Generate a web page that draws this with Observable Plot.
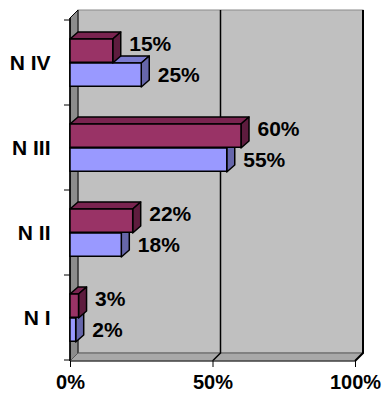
<!DOCTYPE html>
<html>
<head>
<meta charset="utf-8">
<script src="https://cdn.jsdelivr.net/npm/d3@7"></script>
<script src="https://cdn.jsdelivr.net/npm/@observablehq/plot@0.6"></script>
<style>
  html, body { margin: 0; padding: 0; background: #fff; }
  #chart { width: 382px; height: 394px; overflow: hidden; }
</style>
</head>
<body>
<div id="chart"></div>
<script>
// ---- data ----
const categories = ["N IV", "N III", "N II", "N I"];
const seriesMaroon = [15, 60, 22, 3];
const seriesBlue = [25, 55, 18, 2];
const xTicks = [0, 50, 100];

const rows = categories.map((c, i) => ({cat: c, m: seriesMaroon[i], b: seriesBlue[i]}));

// 3D geometry
const DX = 8, DY = 7;          // bar depth offset
const WX = 8, WY = 8;          // wall depth offset
const BAR_H = 24;
const M_TOP = 19;              // maroon offset inside band
const B_TOP = 43;              // blue offset inside band
const W = 382, H = 394, ML = 70, MR = 27, MT = 18, MB = 33;
const BW = (H - MT - MB) / categories.length;

const FONT = "'Liberation Sans', Arial, sans-serif";

function walls(index, scales) {
  const {x, y} = scales;
  const x0 = x(0), x1 = x(100);
  const yTop = MT, yBot = H - MB;
  const g = d3.create("svg:g");
  // back wall
  g.append("rect").attr("x", x0 + WX).attr("y", yTop - WY).attr("width", x1 - x0).attr("height", yBot - yTop)
    .attr("fill", "#c0c0c0").attr("stroke", "#8a8a8a").attr("stroke-width", 1);
  // left wall
  g.append("polygon").attr("points", [[x0, yTop], [x0 + WX, yTop - WY], [x0 + WX, yBot - WY], [x0, yBot]].join(" "))
    .attr("fill", "#8c8c8c").attr("stroke", "#000").attr("stroke-width", 1).attr("stroke-linejoin", "round");
  // floor
  g.append("polygon").attr("points", [[x0, yBot], [x0 + WX, yBot - WY], [x1 + WX, yBot - WY], [x1, yBot]].join(" "))
    .attr("fill", "#a8a8a8").attr("stroke", "#5a5a5a").attr("stroke-width", 1);
  // grid lines on back wall + floor diagonals
  for (const t of xTicks.slice(1)) {
    const xx = x(t);
    g.append("polyline").attr("points", [[xx + WX, yTop - WY], [xx + WX, yBot - WY], [xx, yBot]].join(" "))
      .attr("fill", "none").attr("stroke", "#000").attr("stroke-width", t === 100 ? 2 : 1.5);
  }
  // front left axis line
  g.append("line").attr("x1", x0).attr("x2", x0).attr("y1", yTop).attr("y2", yBot).attr("stroke", "#000").attr("stroke-width", 1.5);
  // bottom front edge
  g.append("line").attr("x1", x0).attr("x2", x1).attr("y1", yBot).attr("y2", yBot).attr("stroke", "#333").attr("stroke-width", 1);
  // left ticks at band boundaries
  const bounds = categories.map(c => y(c)).concat([y(categories[categories.length - 1]) + (y.bandwidth ? y.bandwidth() : BW)]);
  for (const yy of bounds) {
    g.append("line").attr("x1", x0 - 6).attr("x2", x0).attr("y1", yy).attr("y2", yy).attr("stroke", "#000").attr("stroke-width", 1);
  }
  return g.node();
}

function faces(key, offTop, topFill, sideFill) {
  return (index, scales) => {
    const {x, y} = scales;
    const g = d3.create("svg:g").attr("stroke", "#000").attr("stroke-width", 1.5).attr("stroke-linejoin", "round");
    for (const r of rows) {
      const xa = x(0), xb = x(r[key]);
      const yt = y(r.cat) + offTop, yb = yt + BAR_H;
      g.append("polygon").attr("fill", topFill)
        .attr("points", [[xa, yt], [xa + DX, yt - DY], [xb + DX, yt - DY], [xb, yt]].join(" "));
      g.append("polygon").attr("fill", sideFill)
        .attr("points", [[xb, yt], [xb + DX, yt - DY], [xb + DX, yb - DY], [xb, yb]].join(" "));
    }
    return g.node();
  };
}

const chart = Plot.plot({
  width: W, height: H,
  marginLeft: ML, marginRight: MR, marginTop: MT, marginBottom: MB,
  style: {fontFamily: FONT, fontWeight: "bold", fontSize: "21px", color: "#000", background: "#fff", overflow: "visible"},
  x: {domain: [0, 100]},
  y: {domain: categories, padding: 0},
  marks: [
    walls,
    Plot.axisY({tickSize: 0, tickPadding: 20, fontSize: 21, label: null, fontWeight: "bold"}),
    Plot.axisX({ticks: xTicks, tickFormat: d => d + "%", tickSize: 6, tickPadding: 7, fontSize: 20, label: null, stroke: "#000"}),
    faces("b", B_TOP, "#7b7bd0", "#6666aa"),
    Plot.barX(rows, {x: "b", y: "cat", fill: "#9999ff", stroke: "#000", strokeWidth: 1.5,
      insetTop: B_TOP, insetBottom: BW - B_TOP - BAR_H}),
    faces("m", M_TOP, "#7a2450", "#5e1c3e"),
    Plot.barX(rows, {x: "m", y: "cat", fill: "#993366", stroke: "#000", strokeWidth: 1.5,
      insetTop: M_TOP, insetBottom: BW - M_TOP - BAR_H}),
    Plot.text(rows, {x: "m", y: "cat", text: d => d.m + "%", dx: 16, dy: -19, textAnchor: "start", fontSize: 21, fontWeight: "bold", fill: "#000"}),
    Plot.text(rows, {x: "b", y: "cat", text: d => d.b + "%", dx: 16, dy: 12, textAnchor: "start", fontSize: 21, fontWeight: "bold", fill: "#000"})
  ]
});
document.getElementById("chart").append(chart);
</script>
</body>
</html>
